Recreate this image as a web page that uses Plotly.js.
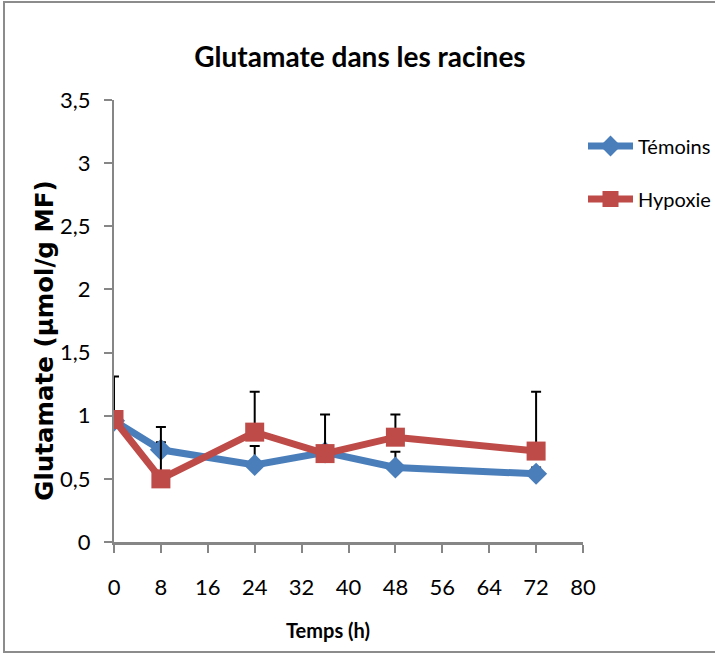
<!DOCTYPE html>
<html>
<head>
<meta charset="utf-8">
<script src="https://cdn.plot.ly/plotly-3.0.1.min.js"></script>
<style>
  html, body { margin: 0; padding: 0; background: #fff; overflow: hidden; }
  #wrap { position: relative; width: 715px; height: 657px; overflow: hidden; }
  #chart { width: 715px; height: 657px; }
  #frame { position: absolute; left: 3px; top: 1px; width: 760px; height: 652px;
           border: 2px solid #8c8c8c; border-right: none; pointer-events: none; box-sizing: border-box; }
</style>
</head>
<body>
<div id="wrap">
  <div id="chart"></div>
  <div id="frame"></div>
</div>
<script>
// Data
const temps = [0, 8, 24, 36, 48, 72];
const temoins = [0.96, 0.73, 0.61, 0.71, 0.59, 0.54];
const temoinsErr = [0.05, 0.06, 0.15, 0.05, 0.125, 0.05];
const hypoxie = [0.97, 0.50, 0.87, 0.70, 0.83, 0.72];
const hypoxieErr = [0.34, 0.41, 0.32, 0.31, 0.18, 0.47];
const xTicks = [0, 8, 16, 24, 32, 40, 48, 56, 64, 72, 80];
const yTicks = [0, 0.5, 1, 1.5, 2, 2.5, 3, 3.5];
const yTickText = ["0", "0,5", "1", "1,5", "2", "2,5", "3", "3,5"];

const NARROW = "Lato, Liberation Sans, sans-serif";
const AXIS_COLOR = "#868686";

const traces = [
  {
    x: temps, y: temoins, name: "Témoins", type: "scatter", mode: "lines+markers",
    legendgroup: "t",
    line: { color: "#4A7EBB", width: 7 },
    marker: { symbol: "diamond", size: 17, color: "#4A7EBB" },
    error_y: { type: "data", symmetric: false, array: temoinsErr, arrayminus: temoins.map(() => 0),
               color: "#000", thickness: 2, width: 5 }
  },
  {
    x: temps, y: hypoxie, name: "Hypoxie", type: "scatter", mode: "lines+markers",
    legendgroup: "h",
    line: { color: "#BE4B48", width: 7 },
    marker: { symbol: "square", size: 19, color: "#BE4B48" },
    error_y: { type: "data", symmetric: false, array: hypoxieErr, arrayminus: hypoxie.map(() => 0),
               color: "#000", thickness: 2, width: 5 }
  }
];

const layout = {
  width: 715, height: 657,
  margin: { l: 114, r: 132, t: 100, b: 115, autoexpand: false },
  paper_bgcolor: "#fff", plot_bgcolor: "#fff",
  separators: ", ",
  showlegend: true,
  title: {
    text: "<b>Glutamate dans les racines</b>",
    font: { family: NARROW, size: 28, color: "#000" },
    x: 360 / 715, xanchor: "center", xref: "container",
    y: 1 - 57 / 657, yanchor: "middle", yref: "container"
  },
  xaxis: {
    range: [0, 80], tickvals: xTicks, ticktext: xTicks.map(String),
    showgrid: false, zeroline: false,
    showline: true, linecolor: AXIS_COLOR, linewidth: 3,
    ticks: "outside", ticklen: 8, tickwidth: 2, tickcolor: AXIS_COLOR,
    ticklabelstandoff: 16,
    tickfont: { family: NARROW, size: 22, color: "#000" },
    title: { text: "<b>Temps (h)</b>&nbsp;&nbsp;&nbsp;&nbsp;&nbsp;&nbsp;&nbsp;&nbsp;", font: { family: NARROW, size: 20, color: "#000" }, standoff: 25 },
    fixedrange: true
  },
  yaxis: {
    range: [0, 3.5], tickvals: yTicks, ticktext: yTickText,
    showgrid: false, zeroline: false,
    showline: true, linecolor: AXIS_COLOR, linewidth: 2,
    ticks: "outside", ticklen: 8, tickwidth: 2, tickcolor: AXIS_COLOR,
    ticklabelstandoff: 9,
    tickfont: { family: NARROW, size: 22, color: "#000" },
    title: { text: "<b>Glutamate (µmol/g MF)</b>&nbsp;&nbsp;&nbsp;&nbsp;&nbsp;", font: { family: "DejaVu Sans, Verdana, sans-serif", size: 24.5, color: "#000" }, standoff: 0 },
    fixedrange: true
  },
  legend: {
    x: 1.0, xanchor: "left", y: 0.94, yanchor: "top",
    font: { family: NARROW, size: 20, color: "#000" },
    traceorder: "grouped", tracegroupgap: 24,
    itemwidth: 45,
    bgcolor: "rgba(0,0,0,0)", borderwidth: 0
  }
};

Plotly.newPlot("chart", traces, layout, { staticPlot: true, displayModeBar: false });
</script>
</body>
</html>
